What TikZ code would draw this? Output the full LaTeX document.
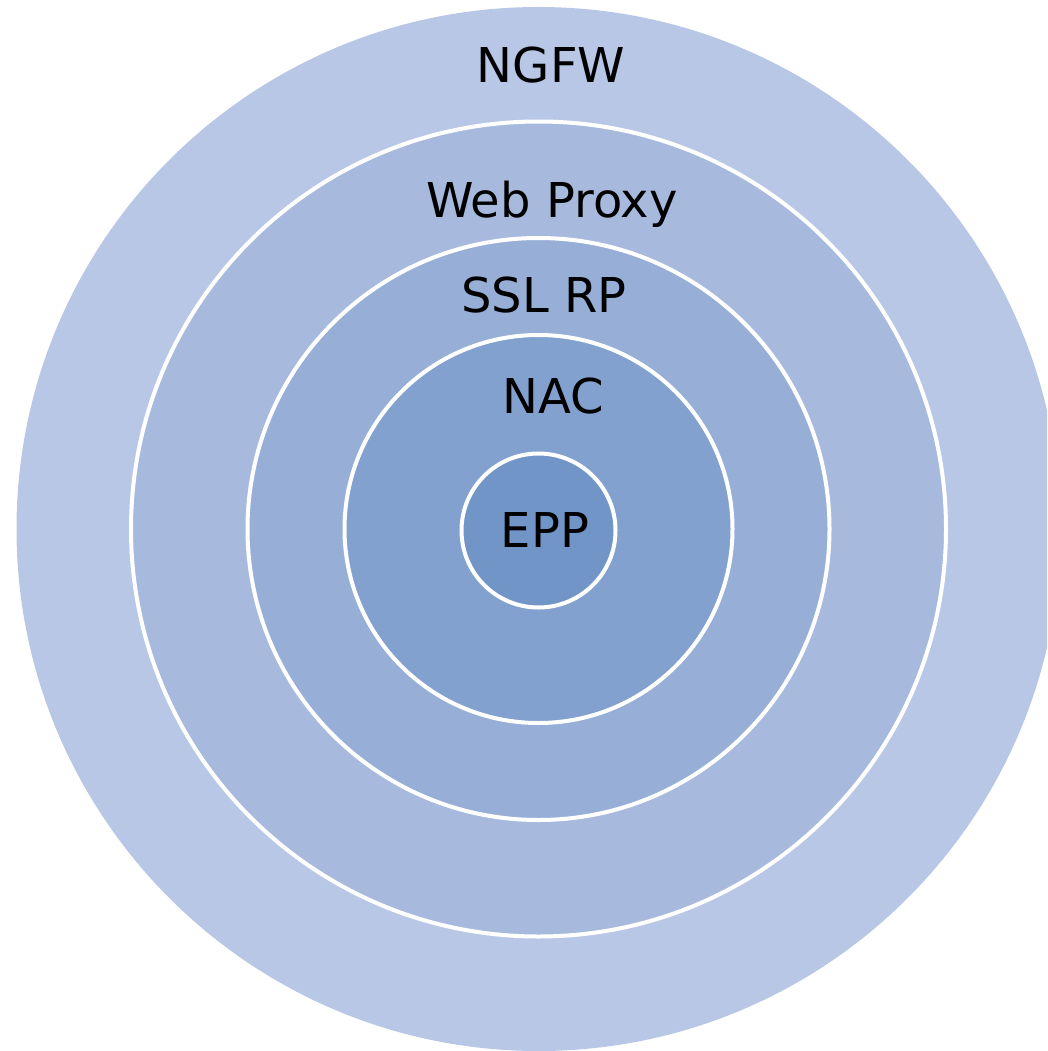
\documentclass[tikz,border=0pt]{standalone}
\usepackage{fontspec}
\setmainfont{DejaVu Sans}
\definecolor{cA}{HTML}{B8C7E6}
\definecolor{cB}{HTML}{A7BADD}
\definecolor{cC}{HTML}{97AFD7}
\definecolor{cD}{HTML}{82A1CE}
\definecolor{cE}{HTML}{7095C6}
\tikzset{
  ring/.style={draw=white, line width=4pt},
  lbl/.style={anchor=base, inner sep=0pt, text=black, font=\fontsize{48}{58}\selectfont}
}
\begin{document}
\begin{tikzpicture}[x=1pt,y=-1pt]
\useasboundingbox (0,0) rectangle (1047,1051);
\clip (0,0) rectangle (1047,1051);
\coordinate (c) at (538.5,529);
\fill[cA] (c) circle (522);
\filldraw[ring, fill=cB] (c) circle (407.5);
\filldraw[ring, fill=cC] (c) circle (291);
\filldraw[ring, fill=cD] (c) circle (194);
\filldraw[ring, fill=cE] (538.5,530.5) circle (77);
\node[lbl] (ngfw) at (551,83) {NGFW};
\node[lbl] (web) at (552,217) {Web Proxy};
\node[lbl] (ssl) at (544,312) {SSL RP};
\node[lbl] (nac) at (553,413) {NAC};
\node[lbl] (epp) at (545,547) {EPP};
\end{tikzpicture}
\end{document}
